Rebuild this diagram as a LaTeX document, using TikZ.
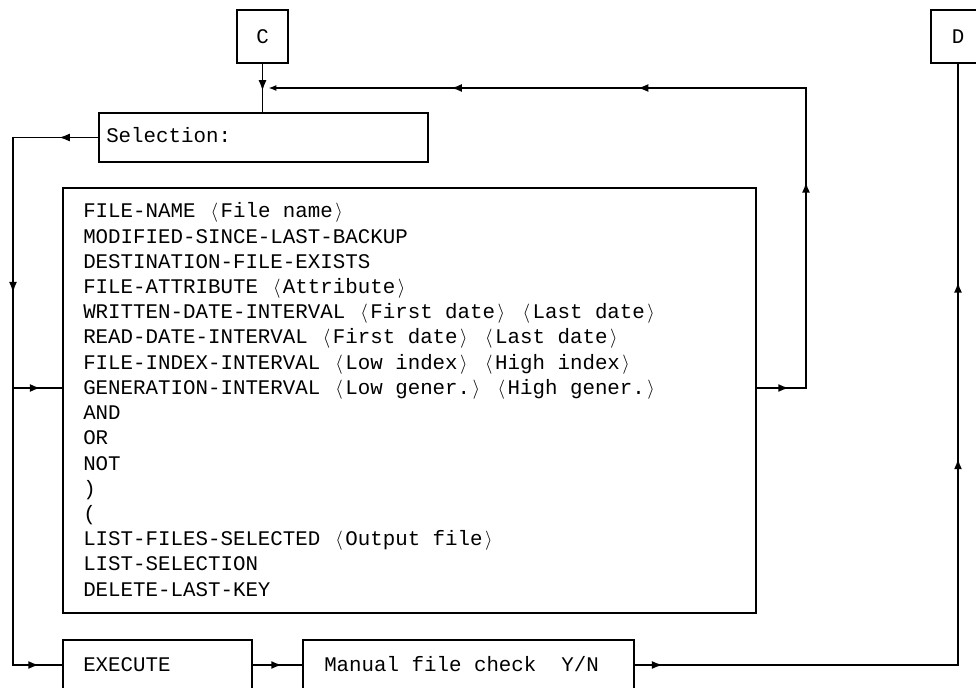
\documentclass[tikz,border=0pt]{standalone}
\usepackage{fontspec}
\newfontfamily\prtfont{Liberation Mono}
\usetikzlibrary{positioning,fit,calc,arrows.meta,decorations.markings}

\newcommand{\opnb}{\makebox[0.6em]{$\langle$}}
\newcommand{\clsb}{\makebox[0.6em]{$\rangle$}}

\tikzset{
	box/.style={draw, line width=1.3pt, inner sep=0pt},
	txt/.style={font=\prtfont\fontsize{15.6}{19}\selectfont, inner sep=0pt, anchor=base west},
	lbl/.style={font=\prtfont\fontsize{15.6}{19}\selectfont, inner sep=0pt},
	conn/.style={line width=1.3pt},
	tipat/.style={postaction={decorate, decoration={markings, mark=at position #1 with {\arrow{Latex[length=8pt,width=6pt]}}}}}
}

\begin{document}
\begin{tikzpicture}[x=0.75pt,y=-0.75pt]
				\useasboundingbox (0,0) rectangle (976,688);
				% boxes
				\node[box, fit={(237,10) (288,63)}] (c) {};
				\node[box, fit={(931,10) (985,63)}] (d) {};
				\node[box, fit={(99,113) (428,162)}] (sel) {};
				\node[box, fit={(63,188) (756,613)}] (keys) {};
				\node[box, fit={(63,640) (252,690)}] (exe) {};
				\node[box, fit={(303,640) (634,690)}] (man) {};
				% texts
				\node[lbl] (c-t) at (c.center) {C};
				\node[lbl] (d-t) at (d.center) {D};
				\node[txt] (sel-t) at (106,143) {Selection:};
				\node[txt] (k1) at (83,218) {FILE-NAME \opnb File name\clsb};
				\node[txt] (k2) at (83,243.2) {MODIFIED-SINCE-LAST-BACKUP};
				\node[txt] (k3) at (83,268.4) {DESTINATION-FILE-EXISTS};
				\node[txt] (k4) at (83,293.6) {FILE-ATTRIBUTE \opnb Attribute\clsb};
				\node[txt] (k5) at (83,318.8) {WRITTEN-DATE-INTERVAL \opnb First date\clsb\ \opnb Last date\clsb};
				\node[txt] (k6) at (83,344) {READ-DATE-INTERVAL \opnb First date\clsb\ \opnb Last date\clsb};
				\node[txt] (k7) at (83,369.2) {FILE-INDEX-INTERVAL \opnb Low index\clsb\ \opnb High index\clsb};
				\node[txt] (k8) at (83,394.4) {GENERATION-INTERVAL \opnb Low gener.\clsb\ \opnb High gener.\clsb};
				\node[txt] (k9) at (83,419.6) {AND};
				\node[txt] (k10) at (83,444.8) {OR};
				\node[txt] (k11) at (83,470) {NOT};
				\node[txt] (k12) at (83,495.2) {)};
				\node[txt] (k13) at (83,520.4) {(};
				\node[txt] (k14) at (83,545.6) {LIST-FILES-SELECTED \opnb Output file\clsb};
				\node[txt] (k15) at (83,570.8) {LIST-SELECTION};
				\node[txt] (k16) at (83,596) {DELETE-LAST-KEY};
				\node[txt] (exe-t) at (83,671) {EXECUTE};
				\node[txt] (man-t) at (324,671) {Manual file check\ \ Y/N};
				% corners of the connectors
				\coordinate (jn) at (263,88);
				\coordinate (rt) at (806,88);
				\coordinate (rm) at (806,388);
				\coordinate (lt) at (13,137.5);
				\coordinate (lm) at (13,388);
				\coordinate (lb) at (13,665);
				\coordinate (dc) at (958,665);
				% connectors
				\draw[conn, tipat=0.56] (c.south) -- (c.south |- sel.north);
				\draw[conn, tipat=0.036, tipat=0.286, tipat=0.580, tipat=0.789, -{Latex[length=6pt,width=4.5pt]}, shorten >=4pt] (keys.east |- rm) -- (rm) -- (rt) -- (jn);
				\draw[conn, tipat=0.059, tipat=0.363, tipat=0.965] (sel.west) -- (lt) -- (lb) -- (exe.west);
				\draw[conn, tipat=0.56] (lm) -- (lm -| keys.west);
				\draw[conn, tipat=0.59] (exe) -- (man);
				\draw[conn, tipat=0.030, tipat=0.573, tipat=0.764] (man.east) -- (dc) -- (d.south);
\end{tikzpicture}
\end{document}
